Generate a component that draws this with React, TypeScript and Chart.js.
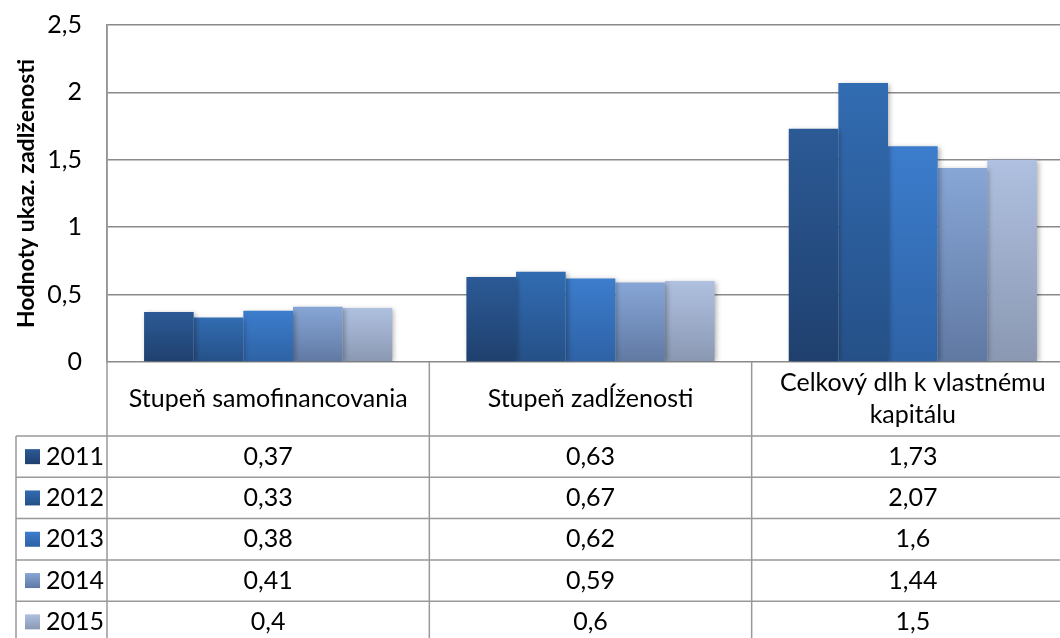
import React, { useEffect, useRef } from "react";
import { Chart, registerables } from "chart.js";

Chart.register(...registerables);

const categoryLabels: string[][] = [
  ["Stupeň samofinancovania"],
  ["Stupeň zadĺženosti"],
  ["Celkový dlh k vlastnému", "kapitálu"],
];
const years = ["2011", "2012", "2013", "2014", "2015"];
const s2011 = [0.37, 0.63, 1.73];
const s2012 = [0.33, 0.67, 2.07];
const s2013 = [0.38, 0.62, 1.6];
const s2014 = [0.41, 0.59, 1.44];
const s2015 = [0.4, 0.6, 1.5];
const seriesValues = [s2011, s2012, s2013, s2014, s2015];
const yTicks = [0, 0.5, 1, 1.5, 2, 2.5];
const axisTitle = "Hodnoty ukaz. zadlženosti";

const topColors = ["#2c5a96", "#326cb2", "#3c7dcd", "#87a6d6", "#afc0e0"];
const bottomColors = ["#1f406e", "#255087", "#2e62a5", "#6079a3", "#8a98b2"];

const FONT = "Lato, 'DejaVu Sans', sans-serif";
const fmt = (v: number) => String(v).replace(".", ",");

const tablePlugin = {
  id: "dataTable",
  beforeDatasetsDraw(chart: any) {
    const c = chart.ctx;
    c.save();
    c.shadowColor = "rgba(0,0,0,0.3)";
    c.shadowBlur = 5;
    c.shadowOffsetX = 2;
    c.shadowOffsetY = 1;
  },
  afterDatasetsDraw(chart: any) {
    chart.ctx.restore();
  },
  afterDraw(chart: any) {
    const c = chart.ctx as CanvasRenderingContext2D;
    const area = chart.chartArea;
    const xs = chart.scales.x;
    const W = chart.width;
    const H = chart.height;
    const L = area.left;
    const B = area.bottom;
    const headerBottom = B + 74;
    const rowH = 41.3;
    const legendLeft = 16;
    c.save();
    c.strokeStyle = "#999999";
    c.lineWidth = 1.5;
    c.beginPath();
    c.moveTo(L, area.top);
    c.lineTo(L, H);
    c.moveTo(legendLeft, headerBottom);
    c.lineTo(legendLeft, H);
    for (let i = 0; i < categoryLabels.length - 1; i++) {
      const xd = (xs.getPixelForValue(i) + xs.getPixelForValue(i + 1)) / 2;
      c.moveTo(xd, B);
      c.lineTo(xd, H);
    }
    for (let r = 0; r < years.length; r++) {
      const y = headerBottom + r * rowH;
      c.moveTo(legendLeft, y);
      c.lineTo(W, y);
    }
    c.stroke();

    c.fillStyle = "#000";
    c.font = `25px ${FONT}`;
    c.textAlign = "center";
    c.textBaseline = "middle";
    categoryLabels.forEach((lines, i) => {
      const cx = xs.getPixelForValue(i);
      const cy = (B + headerBottom) / 2;
      const lh = 32;
      lines.forEach((ln, k) => {
        c.fillText(ln, cx, cy + (k - (lines.length - 1) / 2) * lh);
      });
    });
    years.forEach((yr, r) => {
      const cy = headerBottom + r * rowH + rowH / 2;
      const g = c.createLinearGradient(0, cy - 7.5, 0, cy + 7.5);
      g.addColorStop(0, topColors[r]);
      g.addColorStop(1, bottomColors[r]);
      c.fillStyle = g;
      c.fillRect(25, cy - 7.5, 15, 15);
      c.fillStyle = "#000";
      c.textAlign = "left";
      c.fillText(yr, 46, cy);
      c.textAlign = "center";
      seriesValues[r].forEach((v, i) => {
        c.fillText(fmt(v), xs.getPixelForValue(i), cy);
      });
    });
    c.restore();
  },
};

export default function App() {
  const ref = useRef<HTMLCanvasElement | null>(null);
  useEffect(() => {
    if (!ref.current) return;
    const chart = new Chart(ref.current, {
      type: "bar",
      data: {
        labels: categoryLabels.map((l) => l.join(" ")),
        datasets: years.map((yr, si) => ({
          label: yr,
          data: seriesValues[si],
          borderWidth: 0,
          backgroundColor: (ctx: any) => {
            const ch = ctx.chart;
            if (!ch.chartArea || ctx.type !== "data") return topColors[si];
            const ys = ch.scales.y;
            const g = ch.ctx.createLinearGradient(0, ys.getPixelForValue(ctx.raw), 0, ys.getPixelForValue(0));
            g.addColorStop(0, topColors[si]);
            g.addColorStop(1, bottomColors[si]);
            return g;
          },
          categoryPercentage: 0.77,
          barPercentage: 1.0,
        })),
      },
      options: {
        animation: false,
        responsive: false,
        devicePixelRatio: 1,
        layout: { padding: { left: 0, top: 25, right: 6, bottom: 276 } },
        plugins: { legend: { display: false }, tooltip: { enabled: false } },
        scales: {
          x: { display: false },
          y: {
            min: 0,
            max: 2.5,
            afterBuildTicks: (scale: any) => {
              scale.ticks = yTicks.map((v) => ({ value: v }));
            },
            afterFit: (scale: any) => {
              scale.width = 107;
              scale.paddingTop = 0;
              scale.paddingBottom = 0;
            },
            ticks: {
              padding: 25,
              color: "#000",
              font: { family: FONT, size: 25 },
              callback: (v: any) => fmt(Number(v)),
            },
            grid: { color: "#8a8a8a", lineWidth: 1.5, drawTicks: false },
            border: { display: true, color: "#8a8a8a", width: 1.5 },
            title: {
              display: true,
              text: axisTitle,
              color: "#000",
              font: { family: FONT, size: 23, weight: "bold" },
              padding: { top: 13, bottom: 0 },
            },
          },
        },
      },
      plugins: [tablePlugin],
    });
    return () => chart.destroy();
  }, []);
  return (
    <div style={{ position: "fixed", left: 0, top: 0, width: 1060, height: 638, overflow: "hidden", background: "#fff" }}>
      <canvas ref={ref} width={1080} height={638} style={{ width: 1080, height: 638, display: "block" }} />
    </div>
  );
}
